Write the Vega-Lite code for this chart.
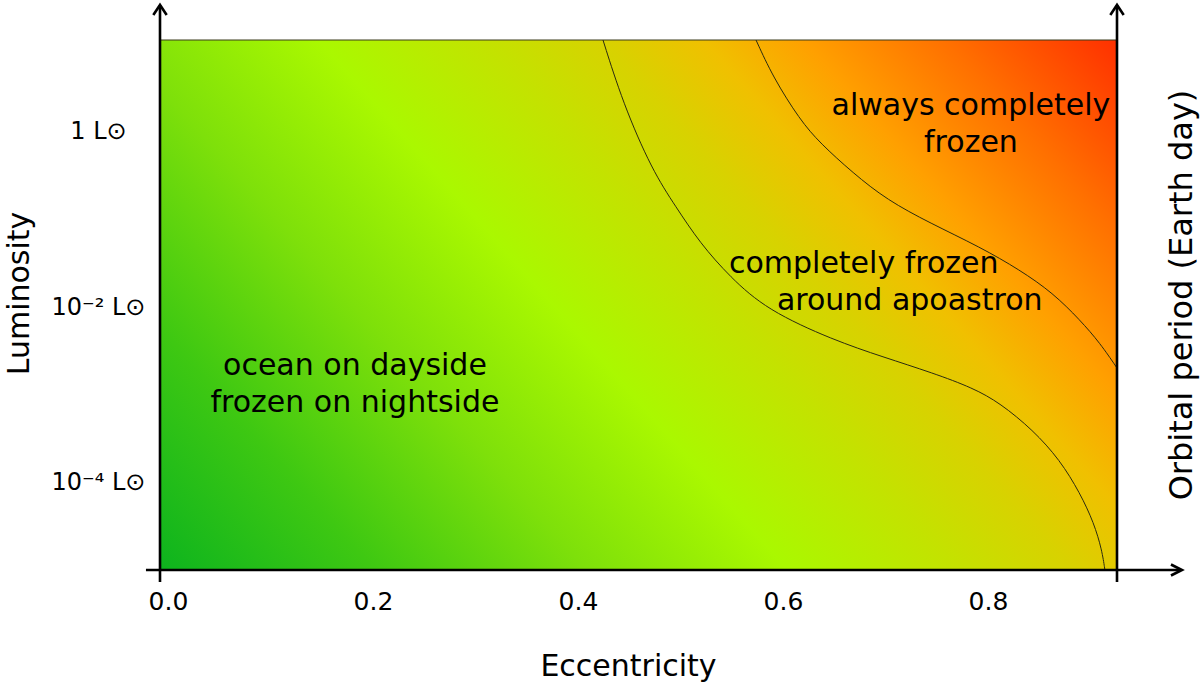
{
  "$schema": "https://vega.github.io/schema/vega-lite/v6.json",
  "autosize": {"type": "none"},
  "width": 957,
  "height": 530,
  "padding": {"left": 160, "top": 40, "right": 83, "bottom": 113},
  "background": "white",
  "config": {
    "view": {"stroke": null},
    "font": "DejaVu Sans",
    "axis": {"labelColor": "black", "titleColor": "black", "titleFontWeight": "normal", "grid": false}
  },
  "datasets": {
    "region": [{"x": -0.0078, "x2": 0.9259, "y": -5, "y2": 1.05}],
    "curves": [
      {"curve": "completely frozen around apoastron (lower boundary)", "x": 0.4244, "y": 1.05},
      {"curve": "completely frozen around apoastron (lower boundary)", "x": 0.4439, "y": 0.329},
      {"curve": "completely frozen around apoastron (lower boundary)", "x": 0.4722, "y": -0.434},
      {"curve": "completely frozen around apoastron (lower boundary)", "x": 0.4956, "y": -0.856},
      {"curve": "completely frozen around apoastron (lower boundary)", "x": 0.519, "y": -1.267},
      {"curve": "completely frozen around apoastron (lower boundary)", "x": 0.5483, "y": -1.655},
      {"curve": "completely frozen around apoastron (lower boundary)", "x": 0.5844, "y": -2.032},
      {"curve": "completely frozen around apoastron (lower boundary)", "x": 0.6488, "y": -2.374},
      {"curve": "completely frozen around apoastron (lower boundary)", "x": 0.6976, "y": -2.568},
      {"curve": "completely frozen around apoastron (lower boundary)", "x": 0.7463, "y": -2.751},
      {"curve": "completely frozen around apoastron (lower boundary)", "x": 0.7854, "y": -2.922},
      {"curve": "completely frozen around apoastron (lower boundary)", "x": 0.8117, "y": -3.094},
      {"curve": "completely frozen around apoastron (lower boundary)", "x": 0.8439, "y": -3.402},
      {"curve": "completely frozen around apoastron (lower boundary)", "x": 0.8702, "y": -3.744},
      {"curve": "completely frozen around apoastron (lower boundary)", "x": 0.8898, "y": -4.121},
      {"curve": "completely frozen around apoastron (lower boundary)", "x": 0.9034, "y": -4.463},
      {"curve": "completely frozen around apoastron (lower boundary)", "x": 0.9112, "y": -4.772},
      {"curve": "completely frozen around apoastron (lower boundary)", "x": 0.9141, "y": -5.0},
      {"curve": "always completely frozen (lower boundary)", "x": 0.5737, "y": 1.05},
      {"curve": "always completely frozen (lower boundary)", "x": 0.5902, "y": 0.628},
      {"curve": "always completely frozen (lower boundary)", "x": 0.6166, "y": 0.137},
      {"curve": "always completely frozen (lower boundary)", "x": 0.6361, "y": -0.126},
      {"curve": "always completely frozen (lower boundary)", "x": 0.6683, "y": -0.468},
      {"curve": "always completely frozen (lower boundary)", "x": 0.7015, "y": -0.776},
      {"curve": "always completely frozen (lower boundary)", "x": 0.7434, "y": -1.039},
      {"curve": "always completely frozen (lower boundary)", "x": 0.7922, "y": -1.313},
      {"curve": "always completely frozen (lower boundary)", "x": 0.8312, "y": -1.575},
      {"curve": "always completely frozen (lower boundary)", "x": 0.8634, "y": -1.838},
      {"curve": "always completely frozen (lower boundary)", "x": 0.8898, "y": -2.146},
      {"curve": "always completely frozen (lower boundary)", "x": 0.9093, "y": -2.409},
      {"curve": "always completely frozen (lower boundary)", "x": 0.9259, "y": -2.694}
    ],
    "axislines": [
      {"axis": "luminosity", "x": -0.0078, "x2": -0.0078, "y": -5.137, "y2": 1.44},
      {"axis": "orbital period", "x": 0.9259, "x2": 0.9259, "y": -5.137, "y2": 1.44},
      {"axis": "eccentricity", "x": -0.0215, "x2": 0.9883, "y": -5, "y2": -5}
    ],
    "uparrows": [
      {"axis": "luminosity", "x": -0.0078, "y": 1.45},
      {"axis": "orbital period", "x": 0.9259, "y": 1.45}
    ],
    "rightarrows": [
      {"axis": "eccentricity", "x": 0.9893, "y": -5}
    ],
    "righttitle": [
      {"label": "Orbital period (Earth day)", "x": 0.9995, "y": -1.861}
    ],
    "centerlabels": [
      {"label": "always completely", "x": 0.7834, "y": 0.194},
      {"label": "frozen", "x": 0.7834, "y": -0.228},
      {"label": "ocean on dayside", "x": 0.1824, "y": -2.774},
      {"label": "frozen on nightside", "x": 0.1824, "y": -3.196}
    ],
    "leftlabels": [
      {"label": "completely frozen", "x": 0.5473, "y": -1.61},
      {"label": "around apoastron", "x": 0.5941, "y": -2.032}
    ]
  },
  "encoding": {
    "x": {
      "field": "x", "type": "quantitative",
      "scale": {"domain": [-0.0078, 0.9259], "nice": false, "zero": false},
      "axis": {
        "values": [0, 0.2, 0.4, 0.6, 0.8], "format": ".1f",
        "domain": false, "ticks": false, "grid": false,
        "labelFontSize": 25, "labelBaseline": "alphabetic", "labelPadding": 39,
        "labelFlush": false,
        "title": "Eccentricity", "titleFontSize": 30, "titleX": 468, "titleY": 105,
        "titleAlign": "center", "titleBaseline": "alphabetic"
      }
    },
    "y": {
      "field": "y", "type": "quantitative",
      "scale": {"domain": [-5, 1.05], "nice": false, "zero": false},
      "axis": {
        "orient": "left", "values": [0, -2, -4],
        "labelExpr": "datum.value == 0 ? '1 L⊙' : (datum.value == -2 ? '10⁻² L⊙' : '10⁻⁴ L⊙')",
        "domain": false, "ticks": false, "tickSize": 0, "grid": false,
        "labelFontSize": 24, "labelAlign": "center", "labelBaseline": "alphabetic",
        "labelPadding": 62, "labelOffset": 7, "labelFlush": false, "labelOverlap": false,
        "title": "Luminosity", "titleFontSize": 30, "titleAngle": 270,
        "titleX": -132, "titleY": 253, "titleAlign": "center", "titleBaseline": "alphabetic"
      }
    }
  },
  "layer": [
    {
      "data": {"name": "region"},
      "mark": {
        "type": "rect",
        "stroke": "#3c3c1c",
        "strokeWidth": 1.2,
        "fill": {
          "gradient": "linear",
          "x1": 0, "y1": 1, "x2": 1.2015, "y2": 0.4113,
          "stops": [
            {"offset": 0, "color": "#0db41e"},
            {"offset": 0.15, "color": "#3ec812"},
            {"offset": 0.3, "color": "#7ee00a"},
            {"offset": 0.44, "color": "#aaf800"},
            {"offset": 0.56, "color": "#c4e200"},
            {"offset": 0.64, "color": "#d8d200"},
            {"offset": 0.71, "color": "#f0c000"},
            {"offset": 0.78, "color": "#ffa000"},
            {"offset": 0.88, "color": "#ff7000"},
            {"offset": 1, "color": "#ff3000"}
          ]
        }
      },
      "encoding": {
        "x2": {"field": "x2"},
        "y2": {"field": "y2"}
      }
    },
    {
      "data": {"name": "curves"},
      "mark": {"type": "line", "interpolate": "basis", "stroke": "#2a2a10", "strokeWidth": 1},
      "encoding": {
        "detail": {"field": "curve", "type": "nominal"}
      }
    },
    {
      "data": {"name": "axislines"},
      "mark": {"type": "rule", "color": "black", "strokeWidth": 2.6},
      "encoding": {
        "x2": {"field": "x2"},
        "y2": {"field": "y2"}
      }
    },
    {
      "data": {"name": "uparrows"},
      "mark": {"type": "point", "shape": "M -0.67 1 L 0 0 L 0.67 1", "size": 400, "filled": false, "stroke": "black", "strokeWidth": 2.6, "opacity": 1, "strokeJoin": "miter"},
      "encoding": {}
    },
    {
      "data": {"name": "rightarrows"},
      "mark": {"type": "point", "shape": "M -1.1 -0.55 L 0 0 L -1.1 0.55", "size": 400, "filled": false, "stroke": "black", "strokeWidth": 2.6, "opacity": 1, "strokeJoin": "miter"},
      "encoding": {}
    },
    {
      "data": {"name": "righttitle"},
      "mark": {"type": "text", "align": "center", "baseline": "alphabetic", "angle": 270, "fontSize": 32, "font": "DejaVu Sans", "color": "black"},
      "encoding": {"text": {"field": "label"}}
    },
    {
      "data": {"name": "centerlabels"},
      "mark": {"type": "text", "align": "center", "baseline": "alphabetic", "fontSize": 30, "font": "DejaVu Sans", "color": "black"},
      "encoding": {"text": {"field": "label"}}
    },
    {
      "data": {"name": "leftlabels"},
      "mark": {"type": "text", "align": "left", "baseline": "alphabetic", "fontSize": 30, "font": "DejaVu Sans", "color": "black"},
      "encoding": {"text": {"field": "label"}}
    }
  ]
}
